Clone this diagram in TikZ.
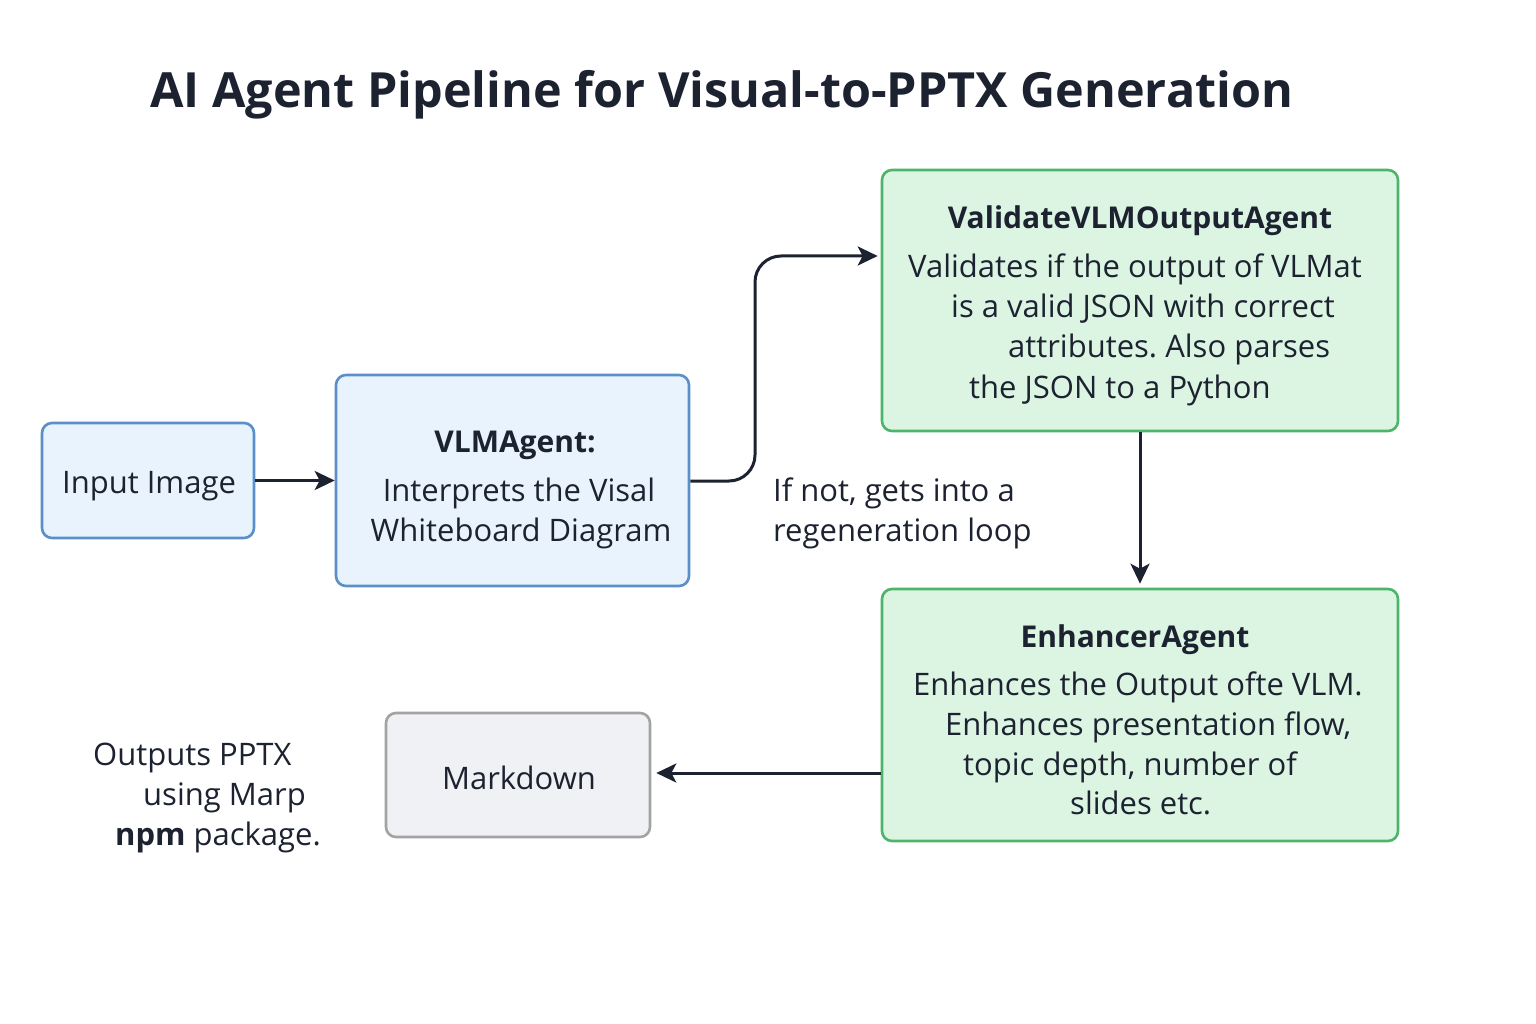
\documentclass[tikz,border=0pt]{standalone}
\usepackage{fontspec}
\setmainfont{Open Sans}
\usetikzlibrary{arrows.meta}
\definecolor{ink}{HTML}{1C2230}
\definecolor{bluefill}{HTML}{E8F3FD}
\definecolor{blueline}{HTML}{5B8FC8}
\definecolor{greenfill}{HTML}{DCF5E3}
\definecolor{greenline}{HTML}{4DB56A}
\definecolor{grayfill}{HTML}{F0F1F4}
\definecolor{grayline}{HTML}{A3A3A3}
\frenchspacing
\begin{document}
\begin{tikzpicture}[x=1pt,y=-1pt,
  box/.style={draw, line width=2.6pt, rounded corners=10pt, inner sep=0pt},
  bluebox/.style={box, draw=blueline, fill=bluefill},
  greenbox/.style={box, draw=greenline, fill=greenfill},
  graybox/.style={box, draw=grayline, fill=grayfill},
  txt/.style={text=ink, inner sep=0pt, font=\fontsize{31}{37}\selectfont},
  btxt/.style={txt, font=\fontsize{30}{37}\selectfont\bfseries},
  arr/.style={draw=ink, line width=3pt, -{Stealth[length=20pt,width=19pt,inset=5pt]}}
]
\useasboundingbox[fill=white] (0,0) rectangle (1536,1024);

\node[txt, anchor=base west, font=\fontsize{48.5}{56}\selectfont\bfseries] (title) at (150,108) {AI Agent Pipeline for Visual-to-PPTX Generation};

% boxes
\node[bluebox, minimum width=212pt, minimum height=115pt] (inp) at (148,480.5) {};
\node[bluebox, minimum width=353pt, minimum height=211pt] (vlm) at (512.5,480.5) {};
\node[greenbox, minimum width=516pt, minimum height=261pt] (val) at (1140,300.5) {};
\node[greenbox, minimum width=516pt, minimum height=252pt] (enh) at (1140,715) {};
\node[graybox, minimum width=264pt, minimum height=124pt] (md) at (518,775) {};

% texts
\node[txt, anchor=base] (tinp) at (149,493) {Input Image};
\node[btxt, anchor=base] (tvlm1) at (515,452) {VLMAgent:};
\node[txt, anchor=base] (tvlm2) at (519,501) {Interprets the Visal};
\node[txt, anchor=base] (tvlm3) at (521,541) {Whiteboard Diagram};

\node[btxt, anchor=base] (tval0) at (1140,229) {ValidateVLMOutputAgent};
\node[txt, anchor=base west] (tval1) at (908,277) {Validates if the output of VLMat};
\node[txt, anchor=base west] (tval2) at (951,317) {is a valid JSON with correct};
\node[txt, anchor=base west] (tval3) at (1008,357) {attributes. Also parses};
\node[txt, anchor=base west] (tval4) at (969,398) {the JSON to a Python};

\node[btxt, anchor=base] (tenh0) at (1135,647) {EnhancerAgent};
\node[txt, anchor=base west] (tenh1) at (913,695) {Enhances the Output ofte VLM.};
\node[txt, anchor=base west] (tenh2) at (945,735) {Enhances presentation flow,};
\node[txt, anchor=base west] (tenh3) at (963,775) {topic depth, number of};
\node[txt, anchor=base west] (tenh4) at (1070,814) {slides etc.};

\node[txt, anchor=base] (tmd) at (519,789) {Markdown};

\node[txt, anchor=base west] (out1) at (93,765) {Outputs PPTX};
\node[txt, anchor=base west] (out2) at (143,805) {using Marp};
\node[txt, anchor=base west] (out3) at (115,845) {\textbf{npm} package.};

\node[txt, anchor=base west] (loop1) at (773,501) {If not, gets into a};
\node[txt, anchor=base west] (loop2) at (773,541) {regeneration loop};

% connectors
\coordinate (bend1) at (755,481);
\coordinate (bend2) at (755,256);
\draw[arr] (inp.east) -- (vlm.west);
\draw[arr, rounded corners=26pt, shorten >=3pt] (vlm.east |- bend1) -- (bend1) -- (bend2) -- (val.west |- bend2);
\draw[arr, shorten >=4pt] (val.south) -- (enh.north);
\coordinate (mdy) at (0,773);
\draw[arr, shorten >=5pt] (enh.west |- mdy) -- (md.east |- mdy);
\end{tikzpicture}
\end{document}
